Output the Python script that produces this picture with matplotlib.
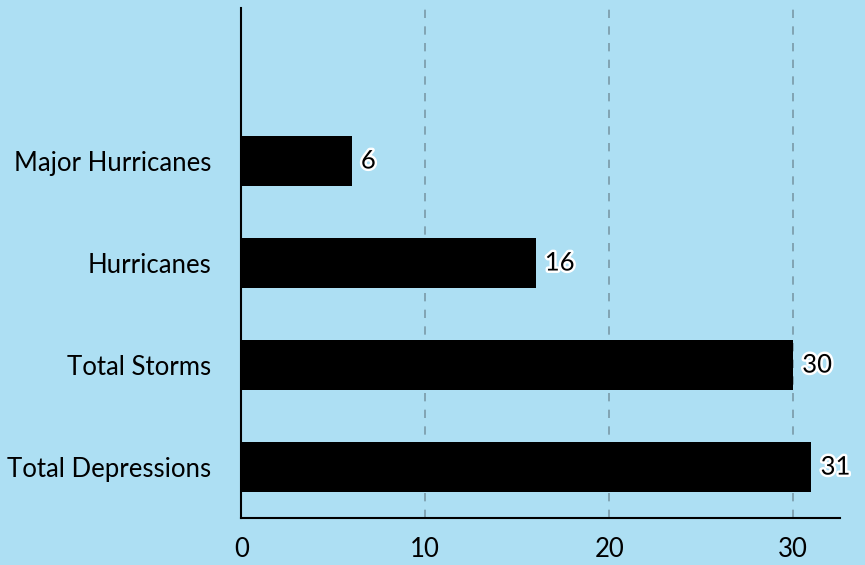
import matplotlib.pyplot as plt
import matplotlib.patheffects as pe

categories = ['Total Depressions', 'Total Storms', 'Hurricanes', 'Major Hurricanes']
counts = [31, 30, 16, 6]

bg = '#addff3'
plt.rcParams['font.family'] = ['Lato', 'DejaVu Sans']

fig, ax = plt.subplots(figsize=(8.65, 5.65), dpi=100)
fig.patch.set_facecolor(bg)
ax.set_facecolor(bg)
fig.subplots_adjust(left=0.279, right=0.971, top=0.986, bottom=0.083)

ax.barh(range(len(categories)), counts, height=0.49, color='black', zorder=3)
for i, v in enumerate(counts):
    ax.text(v + 0.5, i, str(v), va='center', ha='left', fontsize=18.5, color='black', zorder=4,
            path_effects=[pe.withStroke(linewidth=3.5, foreground='white')])

ax.set_yticks(range(len(categories)))
ax.set_yticklabels(categories)
ax.set_ylim(-0.5, 4.5)
ax.set_xlim(0, 32.55)
ax.set_xticks([0, 10, 20, 30])
ax.tick_params(axis='both', length=0, labelsize=18.5, colors='black')
ax.tick_params(axis='x', pad=13.5)
ax.tick_params(axis='y', pad=21.5)

ax.xaxis.grid(True, linestyle=(0, (5, 5)), color='#7a9aa8', linewidth=1.2, zorder=0)
ax.set_axisbelow(True)
for s in ['top', 'right']:
    ax.spines[s].set_visible(False)
for s in ['left', 'bottom']:
    ax.spines[s].set_linewidth(1.5)
    ax.spines[s].set_color('black')

fig.savefig('out.png', facecolor=bg)
